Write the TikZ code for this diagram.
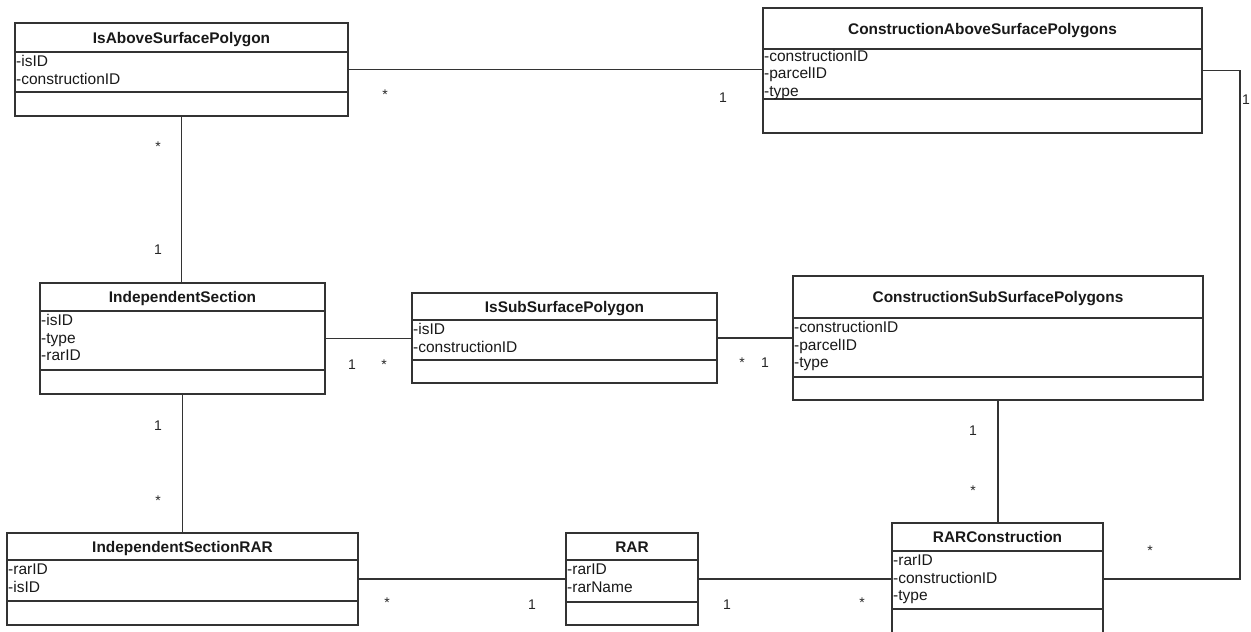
\documentclass[tikz,border=0pt]{standalone}
\usepackage{fontspec}
\setmainfont{Liberation Sans}
\tikzset{
  umlbox/.style={draw=black!80, line width=1.3pt, inner sep=0pt, outer sep=0pt, anchor=north west},
  sepline/.style={draw=black!80, line width=1.3pt},
  ctitle/.style={font=\fontsize{15.4}{18}\selectfont\bfseries, anchor=base, inner sep=0pt, text=black!90},
  cattr/.style={font=\fontsize{15.5}{18}\selectfont, anchor=base west, inner sep=0pt, text=black!90},
  link/.style={draw=black!80, line width=1.2pt},
  mult/.style={font=\fontsize{14}{16}\selectfont, anchor=base, inner sep=0pt, text=black!85},
}
\newcommand\umlclass[9]{%
  \node[umlbox, minimum width={(#4-#2)*1pt}, minimum height={(#5-#3)*1pt}] (#1) at (#2,#3) {};
  \draw[sepline] (#2,#6) -- (#4,#6);
  \draw[sepline] (#2,#7) -- (#4,#7);
  \node[ctitle] (#1-title) at ({(#2+#4)/2},{(#3+#6)/2+5.5}) {#8};
  \foreach \a [count=\n] in {#9} {\xdef\myattrcount{\n}}
  \pgfmathsetmacro\myfirstbase{min(#6+14.5, #7-3-17.5*(\myattrcount-1))}
  \foreach \a [count=\i] in {#9} {\node[cattr] (#1-attr\i) at ({#2+1},{\myfirstbase+17.5*(\i-1)}) {-\a};}
}
\begin{document}
\begin{tikzpicture}[x=1pt,y=-1pt]
\useasboundingbox (0,0) rectangle (1251,632);
\fill[white] (0,0) rectangle (1251,632);
\clip (0,0) rectangle (1251,632);

\umlclass{isa}{15}{23}{348}{116}{52}{92}{IsAboveSurfacePolygon}{isID,constructionID}
\umlclass{cas}{763}{8}{1202}{133}{49}{99}{ConstructionAboveSurfacePolygons}{constructionID,parcelID,type}
\umlclass{is}{40}{283}{325}{394}{311}{370}{IndependentSection}{isID,type,rarID}
\umlclass{iss}{412}{293}{717}{383}{320}{360}{IsSubSurfacePolygon}{isID,constructionID}
\umlclass{css}{793}{276}{1203}{400}{318}{377}{ConstructionSubSurfacePolygons}{constructionID,parcelID,type}
\umlclass{israr}{7}{533}{358}{625}{560}{601}{IndependentSectionRAR}{rarID,isID}
\umlclass{rar}{566}{533}{698}{625}{560}{602}{RAR}{rarID,rarName}
\umlclass{rarc}{892}{523}{1103}{645}{551}{609}{RARConstruction}{rarID,constructionID,type}

\coordinate (rc) at (1240,70);

\draw[link] (isa.east) -- (isa.east -| cas.west);
\draw[link] (isa.south) -- (isa.south |- is.north);
\draw[link] (cas.east) -- (cas.east -| rc) -- (rc |- rar.east) -- (rar.east -| rarc.east);
\draw[link] (is.east) -- (is.east -| iss.west);
\draw[link] (iss.east) -- (iss.east -| css.west);
\draw[link] (is.south) -- (is.south |- israr.north);
\draw[link] (css.south) -- (css.south |- rarc.north);
\draw[link] (israr.east) -- (israr.east -| rar.west);
\draw[link] (rar.east) -- (rar.east -| rarc.west);

\node[mult] (m1) at (385,99) {*};
\node[mult] (m2) at (723,102) {1};
\node[mult] (m3) at (1246,104) {1};
\node[mult] (m4) at (158,151) {*};
\node[mult] (m5) at (158,254) {1};
\node[mult] (m6) at (352,369) {1};
\node[mult] (m7) at (384,369) {*};
\node[mult] (m8) at (742,367) {*};
\node[mult] (m9) at (765,367) {1};
\node[mult] (m10) at (158,430) {1};
\node[mult] (m11) at (158,505) {*};
\node[mult] (m12) at (973,435) {1};
\node[mult] (m13) at (973,495) {*};
\node[mult] (m14) at (387,607) {*};
\node[mult] (m15) at (532,609) {1};
\node[mult] (m16) at (727,609) {1};
\node[mult] (m17) at (862,607) {*};
\node[mult] (m18) at (1150,555) {*};
\end{tikzpicture}
\end{document}
